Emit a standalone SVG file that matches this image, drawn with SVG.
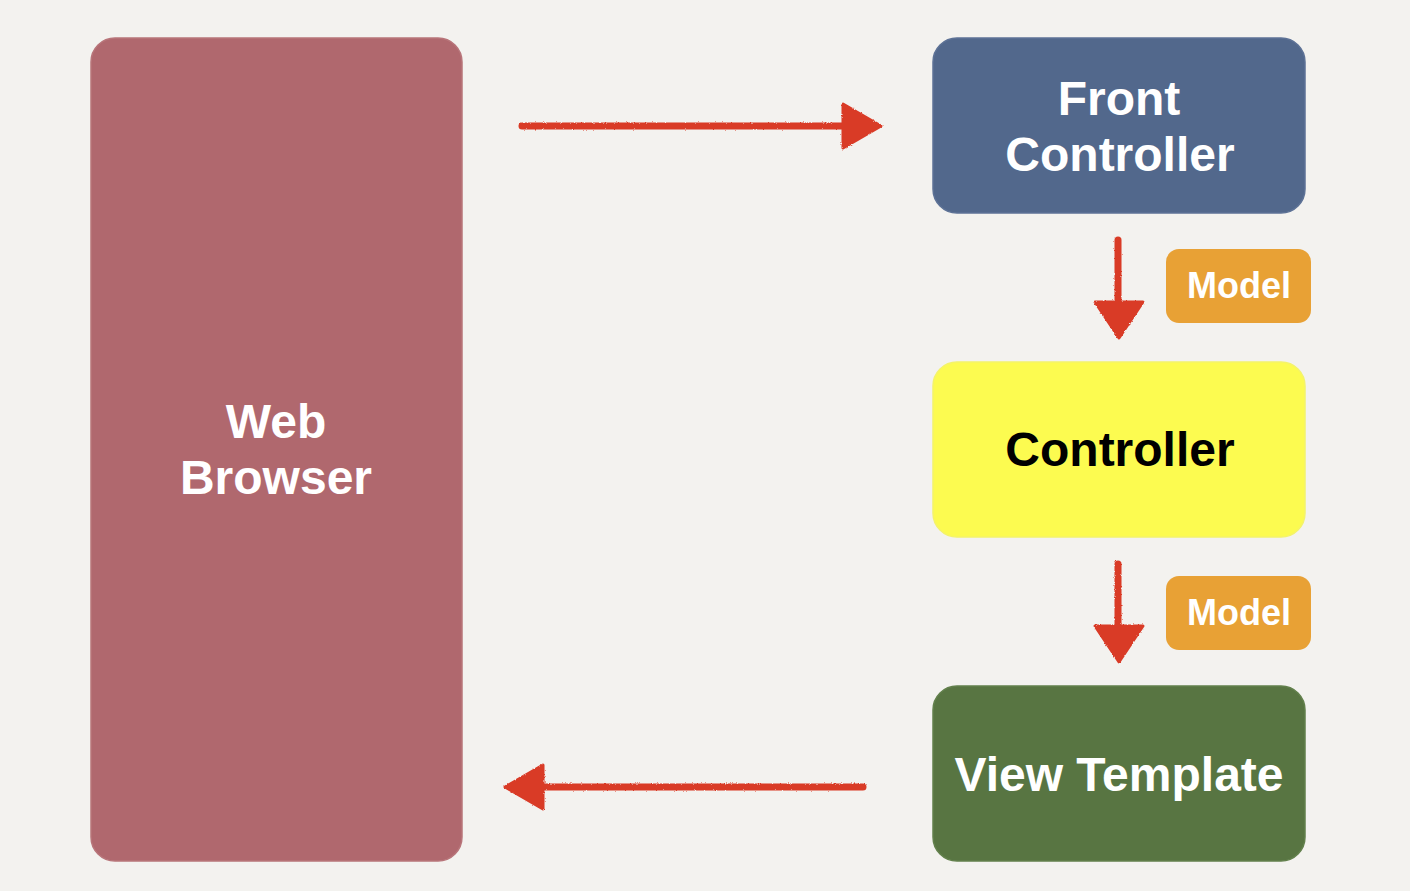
<svg xmlns="http://www.w3.org/2000/svg" width="1410" height="891" viewBox="0 0 1410 891">
  <defs>
    <style>
      .box { stroke-width: 1.5; }
      .label { font-family: "Liberation Sans", Arial, sans-serif; font-weight: bold; text-anchor: middle; }
      .big { font-size: 48px; }
      .small { font-size: 36px; }
      .shaft { stroke: #d93b27; stroke-width: 7; stroke-linecap: round; fill: none; }
      .head { fill: #d93b27; stroke: #d93b27; stroke-width: 3; stroke-linejoin: round; }
    </style>
    <!-- slight crayon roughness for the hand-drawn arrows -->
    <filter id="crayon" x="-10%" y="-10%" width="120%" height="120%">
      <feTurbulence type="fractalNoise" baseFrequency="0.9" numOctaves="2" seed="3" result="noise"/>
      <feDisplacementMap in="SourceGraphic" in2="noise" scale="2.5" xChannelSelector="R" yChannelSelector="G"/>
    </filter>
  </defs>

  <rect width="1410" height="891" fill="#f3f2ef"/>

  <g id="web-browser">
    <rect class="box" x="91" y="38" width="371" height="823" rx="24" fill="#b0686e" stroke="#b8757a"/>
    <text class="label big" x="276" y="438" fill="#ffffff">Web</text>
    <text class="label big" x="276" y="494" fill="#ffffff">Browser</text>
  </g>

  <g id="front-controller">
    <rect class="box" x="933" y="38" width="372" height="175" rx="24" fill="#52688c" stroke="#5d7296"/>
    <text class="label big" x="1119" y="115" fill="#ffffff">Front</text>
    <text class="label big" x="1120" y="171" fill="#ffffff">Controller</text>
  </g>

  <g id="model-1">
    <rect x="1166" y="249" width="145" height="74" rx="13" fill="#e8a135"/>
    <text class="label small" x="1239" y="298" fill="#ffffff">Model</text>
  </g>

  <g id="controller">
    <rect class="box" x="933" y="362" width="372" height="175" rx="24" fill="#fcfb50" stroke="#f4f36a"/>
    <text class="label big" x="1120" y="466" fill="#000000">Controller</text>
  </g>

  <g id="model-2">
    <rect x="1166" y="576" width="145" height="74" rx="13" fill="#e8a135"/>
    <text class="label small" x="1239" y="625" fill="#ffffff">Model</text>
  </g>

  <g id="view-template">
    <rect class="box" x="933" y="686" width="372" height="175" rx="24" fill="#587542" stroke="#62804c"/>
    <text class="label big" x="1119" y="791" fill="#ffffff">View Template</text>
  </g>

  <g id="connectors" filter="url(#crayon)">
    <!-- browser to front controller -->
    <line class="shaft" x1="522" y1="126" x2="850" y2="126"/>
    <polygon class="head" points="843,104 881,126 843,148"/>
    <!-- front controller to controller -->
    <line class="shaft" x1="1118" y1="240" x2="1118" y2="305"/>
    <polygon class="head" points="1095,302 1143,302 1119,338"/>
    <!-- controller to view template -->
    <line class="shaft" x1="1118" y1="564" x2="1118" y2="628"/>
    <polygon class="head" points="1095,626 1143,626 1119,662"/>
    <!-- view template back to browser -->
    <line class="shaft" x1="863" y1="787" x2="535" y2="787"/>
    <polygon class="head" points="543,765 505,787 543,809"/>
  </g>
</svg>
